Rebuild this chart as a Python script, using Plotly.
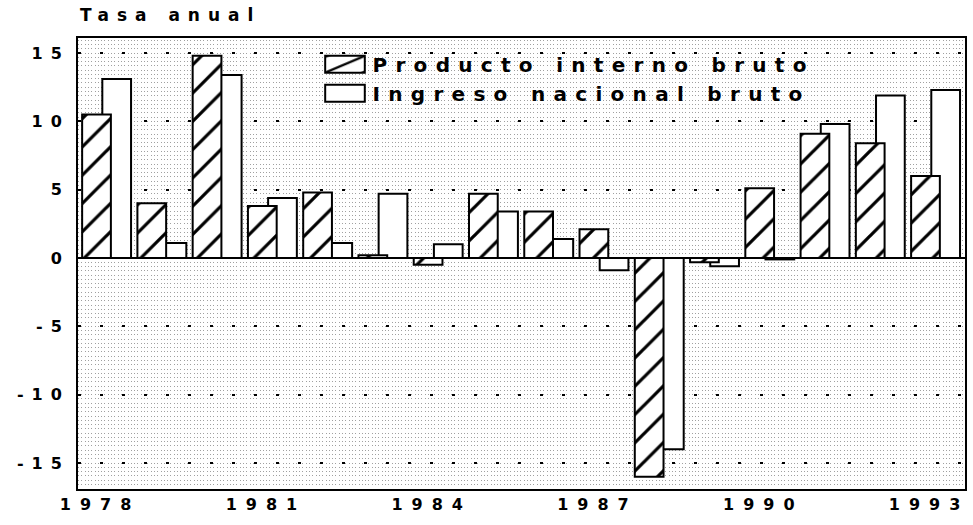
import plotly.graph_objects as go

# ---- data ----
years = list(range(1978, 1994))
pib = [10.5, 4.0, 14.8, 3.8, 4.8, 0.2, -0.5, 4.7, 3.4, 2.1, -16.0, -0.3, 5.1, 9.1, 8.4, 6.0]
inb = [13.1, 1.1, 13.4, 4.4, 1.1, 4.7, 1.0, 3.4, 1.4, -0.9, -14.0, -0.6, -0.1, 9.8, 11.9, 12.3]
tick_years = [1978, 1981, 1984, 1987, 1990, 1993]
y_ticks = [-15, -10, -5, 0, 5, 10, 15]
y_tick_labels = ["-15", "-10", "-5", "0", "5", "10", "15"]
name_pib = "Producto interno bruto"
name_inb = "Ingreso nacional bruto"
y_title = "Tasa anual"

FONT = "DejaVu Sans"

fig = go.Figure()
# INB first so that the hatched PIB bars are drawn in front of it
fig.add_bar(
    x=years, y=inb, name=name_inb, offset=0.04, width=0.52,
    marker=dict(color="white", line=dict(color="black", width=2)),
)
fig.add_bar(
    x=years, y=pib, name=name_pib, offset=-0.325, width=0.52,
    marker=dict(
        color="white", line=dict(color="black", width=2),
        pattern=dict(shape="/", fgcolor="black", fgopacity=1, bgcolor="white",
                     size=20, solidity=0.16),
    ),
)

fig.update_layout(
    width=973, height=525,
    barmode="overlay",
    margin=dict(l=78, r=8, t=38, b=36),
    paper_bgcolor="white", plot_bgcolor="white",
    font=dict(family=FONT, color="black"),
    showlegend=True,
    legend=dict(
        x=0.27, y=0.985, xanchor="left", yanchor="top",
        traceorder="reversed", bgcolor="rgba(0,0,0,0)",
        itemwidth=45,
        font=dict(family=FONT, size=20, weight="bold", color="black"),
    ),
    xaxis=dict(
        range=[1977.6, 1993.65], tickvals=tick_years,
        ticks="", showgrid=False, zeroline=False, automargin=False,
        showline=True, mirror=True, linecolor="black", linewidth=2,
        tickfont=dict(family=FONT, size=16, weight="bold", color="black"),
    ),
    yaxis=dict(
        range=[-16.9, 16.1], tickvals=y_ticks, ticktext=y_tick_labels,
        automargin=False, ticks="", ticklabelstandoff=-6,
        showgrid=True, gridcolor="black", griddash="3px,19px", gridwidth=1.5,
        zeroline=True, zerolinecolor="black", zerolinewidth=2,
        showline=True, mirror=True, linecolor="black", linewidth=2,
        minor=dict(dtick=0.3125, showgrid=True, gridcolor="#a0a0a0",
                   griddash="1px,2.3px", gridwidth=1),
        tickfont=dict(family=FONT, size=16, weight="bold", color="black"),
    ),
    annotations=[dict(
        text=y_title, xref="paper", yref="paper", x=0, y=1,
        xanchor="left", yanchor="middle", yshift=23, align="left",
        showarrow=False,
        font=dict(family=FONT, size=17, weight="bold", color="black"),
    )],
)

post = """
document.documentElement.style.margin = '0';
document.body.style.margin = '0';
document.body.style.overflow = 'hidden';
var st = document.createElement('style');
st.textContent = '.legendtext{letter-spacing:8.3px} .xtick text{letter-spacing:9px} '
  + '.ytick text{letter-spacing:8px} .annotation-text{letter-spacing:8px}';
document.head.appendChild(st);
document.querySelectorAll('.legend .scrollbox').forEach(function(g){
  g.removeAttribute('clip-path');
});
document.querySelectorAll('.legendpoints path').forEach(function(p){
  var t = p.getAttribute('transform') || '';
  p.setAttribute('transform', t + ' scale(3.3,1.4)');
  p.style.vectorEffect = 'non-scaling-stroke';
});
document.querySelectorAll('g.ytick').forEach(function(g){
  var t = g.getAttribute('transform') || '';
  g.setAttribute('transform', 'translate(-9,0) ' + t);
});
"""

fig.write_html("out.html", post_script=post, config={"displayModeBar": False})
